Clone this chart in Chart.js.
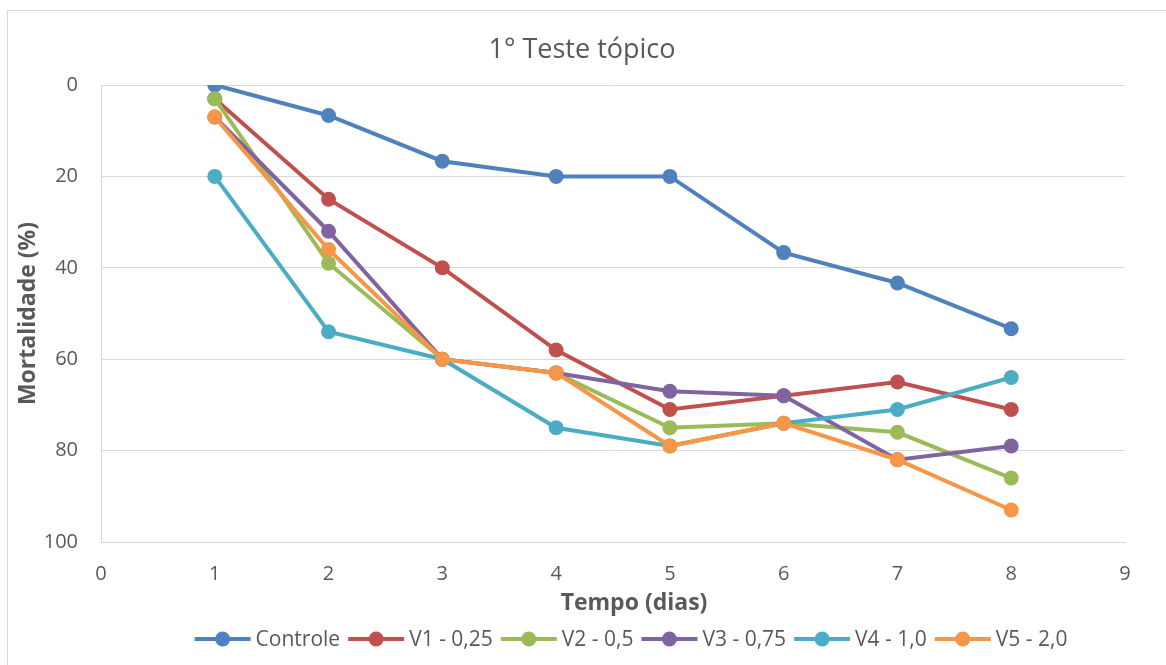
<!DOCTYPE html>
<html>
<head>
<meta charset="utf-8">
<script src="https://cdn.jsdelivr.net/npm/chart.js@4.4.1/dist/chart.umd.min.js"></script>
<style>
  html, body { margin: 0; padding: 0; background: #fff; }
  #wrap { position: relative; width: 1166px; height: 665px; }
</style>
</head>
<body>
<div id="wrap"><canvas id="grafico" width="1166" height="665"></canvas></div>
<script>
// --- dados ---
const dias = [1, 2, 3, 4, 5, 6, 7, 8];
const nomesSeries = ['Controle', 'V1 - 0,25', 'V2 - 0,5', 'V3 - 0,75', 'V4 - 1,0', 'V5 - 2,0'];
const controle = [0, 6.67, 16.67, 20, 20, 36.67, 43.33, 53.33];
const v1 = [3, 25, 40, 58, 71, 68, 65, 71];
const v2 = [3, 39, 60, 63, 75, 74, 76, 86];
const v3 = [7, 32, 60, 63, 67, 68, 82, 79];
const v4 = [20, 54, 60, 75, 79, 74, 71, 64];
const v5 = [7, 36, 60, 63, 79, 74, 82, 93];
const ticksX = [0, 1, 2, 3, 4, 5, 6, 7, 8, 9];
const ticksY = [0, 20, 40, 60, 80, 100];
const titulo = '1° Teste tópico';
const tituloX = 'Tempo (dias)';
const tituloY = 'Mortalidade (%)';

const cores = ['#4F81BD', '#C0504D', '#9BBB59', '#8064A2', '#4BACC6', '#F79646'];
const fonte = '"Open Sans", Lato, sans-serif';
const corTexto = '#595959';

const valores = [controle, v1, v2, v3, v4, v5];

const datasets = valores.map((serie, i) => ({
    label: nomesSeries[i],
    data: serie.map((y, j) => ({ x: dias[j], y: y })),
    borderColor: cores[i],
    backgroundColor: cores[i],
    borderWidth: 4,
    pointRadius: 7.5,
    pointHoverRadius: 7.5,
    pointBorderWidth: 0,
    tension: 0,
    order: valores.length - i   // a última série fica por cima, como no Excel
}));

// moldura externa, títulos e legenda (linha com marcador) desenhados à mão
const moldura = {
    id: 'moldura',
    beforeDraw(chart) {
        const ctx = chart.ctx;
        ctx.save();
        ctx.fillStyle = '#fff';
        ctx.fillRect(0, 0, chart.width, chart.height);
        ctx.strokeStyle = '#D9D9D9';
        ctx.lineWidth = 1;
        ctx.strokeRect(7.5, 10.5, chart.width + 20, chart.height + 20);
        ctx.restore();
    },
    afterDraw(chart) {
        const ctx = chart.ctx;
        ctx.save();
        ctx.fillStyle = corTexto;
        ctx.textAlign = 'center';
        ctx.textBaseline = 'middle';
        // título
        ctx.font = '27px ' + fonte;
        ctx.fillText(titulo, 582, 50);
        // título do eixo x (no Excel fica um pouco à direita do centro)
        ctx.font = 'bold 23px ' + fonte;
        ctx.fillText(tituloX, 634, 603);

        // legenda
        ctx.textAlign = 'left';
        ctx.font = '21px ' + fonte;
        const linha = 56, gapTexto = 5, gapItem = 8;
        const larguras = nomesSeries.map(n => ctx.measureText(n).width);
        let total = 0;
        larguras.forEach((w, i) => { total += linha + gapTexto + w + (i < larguras.length - 1 ? gapItem : 0); });
        let x = 631 - total / 2;
        const y = 639;
        nomesSeries.forEach((nome, i) => {
            ctx.strokeStyle = cores[i];
            ctx.fillStyle = cores[i];
            ctx.lineWidth = 4;
            ctx.beginPath();
            ctx.moveTo(x, y);
            ctx.lineTo(x + linha, y);
            ctx.stroke();
            ctx.beginPath();
            ctx.arc(x + linha / 2, y, 7.5, 0, Math.PI * 2);
            ctx.fill();
            ctx.fillStyle = corTexto;
            ctx.fillText(nome, x + linha + gapTexto, y + 1);
            x += linha + gapTexto + larguras[i] + gapItem;
        });
        ctx.restore();
    }
};

new Chart(document.getElementById('grafico').getContext('2d'), {
    type: 'line',
    data: { datasets: datasets },
    options: {
        responsive: false,
        animation: false,
        events: [],
        layout: { padding: { left: 0, right: 41, top: 85, bottom: 43 } },
        plugins: {
            legend: { display: false },
            tooltip: { enabled: false },
            title: { display: false }
        },
        scales: {
            x: {
                type: 'linear',
                min: 0,
                max: 9,
                afterBuildTicks: s => { s.ticks = ticksX.map(v => ({ value: v })); },
                afterFit: s => { s.height = 80; },
                grid: { display: false, drawTicks: false },
                border: { display: true, color: '#D9D9D9', width: 1 },
                ticks: { color: corTexto, font: { family: fonte, size: 20 }, padding: 20, maxRotation: 0 },
                title: { display: false }
            },
            y: {
                type: 'linear',
                reverse: true,
                min: 0,
                max: 100,
                afterBuildTicks: s => { s.ticks = ticksY.map(v => ({ value: v })); },
                afterFit: s => { s.width = 101; },
                grid: { color: '#D9D9D9', lineWidth: 1, drawTicks: false },
                border: { display: true, color: '#D9D9D9', width: 1 },
                ticks: { color: corTexto, font: { family: fonte, size: 20 }, padding: 23 },
                title: {
                    display: true,
                    text: tituloY,
                    color: corTexto,
                    font: { family: fonte, size: 23, weight: 'bold', lineHeight: 1.2 },
                    padding: { top: 15, bottom: 0 }
                }
            }
        }
    },
    plugins: [moldura]
});
</script>
</body>
</html>
